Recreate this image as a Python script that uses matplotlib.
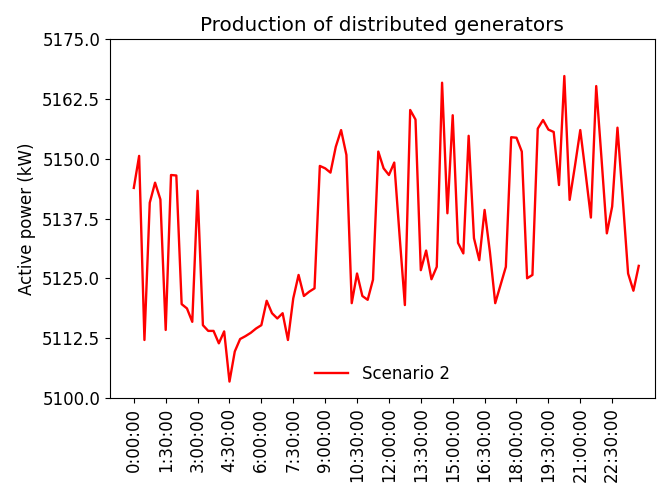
import numpy as np
import matplotlib
matplotlib.use('Agg')
import matplotlib.pyplot as plt

plt.rcParams['font.size'] = 12

# Active power per 15 minute step (kW)
power = [5143.9, 5150.6, 5112.1, 5140.8, 5145.0, 5141.5, 5114.2, 5146.6, 5146.5, 5119.6,
         5118.7, 5115.9, 5143.3, 5115.2, 5114.0, 5114.0, 5111.4, 5113.9, 5103.4, 5109.7,
         5112.3, 5112.9, 5113.6, 5114.5, 5115.2, 5120.3, 5117.7, 5116.6, 5117.7, 5112.1,
         5120.8, 5125.7, 5121.3, 5122.2, 5122.9, 5148.5, 5148.0, 5147.1, 5152.5, 5156.0,
         5150.8, 5119.8, 5126.0, 5121.3, 5120.5, 5124.7, 5151.5, 5148.0, 5146.6, 5149.2,
         5134.0, 5119.4, 5160.2, 5158.2, 5126.7, 5130.8, 5124.8, 5127.4, 5165.9, 5138.6,
         5159.1, 5132.4, 5130.2, 5154.8, 5133.4, 5128.8, 5139.3, 5130.5, 5119.8, 5123.6,
         5127.4, 5154.5, 5154.4, 5151.5, 5125.0, 5125.7, 5156.3, 5158.1, 5156.1, 5155.6,
         5144.5, 5167.3, 5141.4, 5148.5, 5156.0, 5147.0, 5137.7, 5165.2, 5150.0, 5134.4,
         5140.0, 5156.5, 5141.5, 5126.0, 5122.4, 5127.6]

times = []
for i in range(len(power)):
    m = i * 15
    times.append('%d:%02d:00' % (m // 60, m % 60))

fig = plt.figure(figsize=(6.66, 4.84), dpi=100)
ax = fig.add_axes([0.165, 0.178, 0.818, 0.741])

x = np.arange(len(power))
ax.plot(x, power, color='red', linewidth=1.7, label='Scenario 2')

ax.set_xticks(x[::6])
ax.set_xticklabels(times[::6], rotation=90)
ax.set_xlim(-4.5, 98)

yt = np.arange(5100, 5175.1, 12.5)
ax.set_yticks(yt)
ax.set_yticklabels(['%.1f' % v for v in yt])
ax.set_ylim(5100, 5175)

ax.set_title('Production of distributed generators')
ax.set_ylabel('Active power (kW)')
ax.legend(loc='lower center', frameon=False)

fig.savefig('out.png')
